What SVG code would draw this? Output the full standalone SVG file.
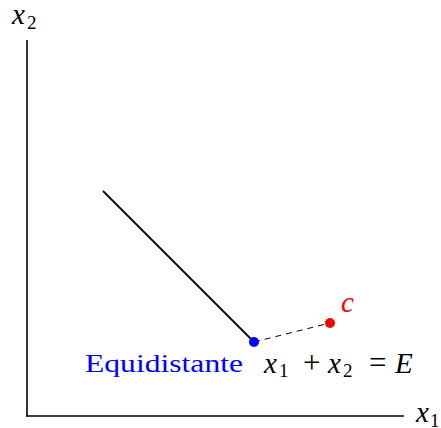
<svg xmlns="http://www.w3.org/2000/svg" width="441" height="428" viewBox="0 0 441 428">
<style>
text{font-family:"Liberation Serif","Times New Roman",serif}
.m{font-style:italic;font-size:29px;fill:#000}
.r{font-style:normal;font-size:31px;fill:#000}
.s{font-style:normal;font-size:19px;fill:#000}
</style>
<rect width="441" height="428" fill="#fff"/>
<g id="axes" stroke="#000" stroke-width="1.6" fill="none">
<line x1="27" y1="40" x2="27" y2="416.8"/>
<line x1="26.2" y1="416" x2="404" y2="416"/>
</g>
<g id="connectors">
<line x1="103" y1="191" x2="254" y2="342" stroke="#000" stroke-width="1.8"/>
<line x1="254" y1="342" x2="330" y2="323" stroke="#000" stroke-width="1" stroke-dasharray="6,5"/>
</g>
<g id="equidistante">
<circle cx="254" cy="342" r="5" fill="#0000ff"/>
<text x="85" y="372" font-size="26" fill="#0000ff" textLength="158" lengthAdjust="spacingAndGlyphs">Equidistante</text>
</g>
<g id="c">
<circle cx="330" cy="323" r="5" fill="#ff0000"/>
<text x="341" y="312" class="m" style="fill:#ff0000">c</text>
</g>
<g id="labels">
<text x="12" y="24" class="m">x</text><text x="27" y="29" class="s">2</text>
<text x="416" y="422" class="m">x</text><text x="430" y="427" class="s">1</text>
<text x="264" y="373" class="m">x</text><text x="279" y="377" class="s">1</text>
<text x="303" y="373" class="r">+</text>
<text x="328" y="373" class="m">x</text><text x="343" y="377" class="s">2</text>
<text x="369" y="373" class="r">=</text>
<text x="395" y="373" class="m">E</text>
</g>
</svg>
